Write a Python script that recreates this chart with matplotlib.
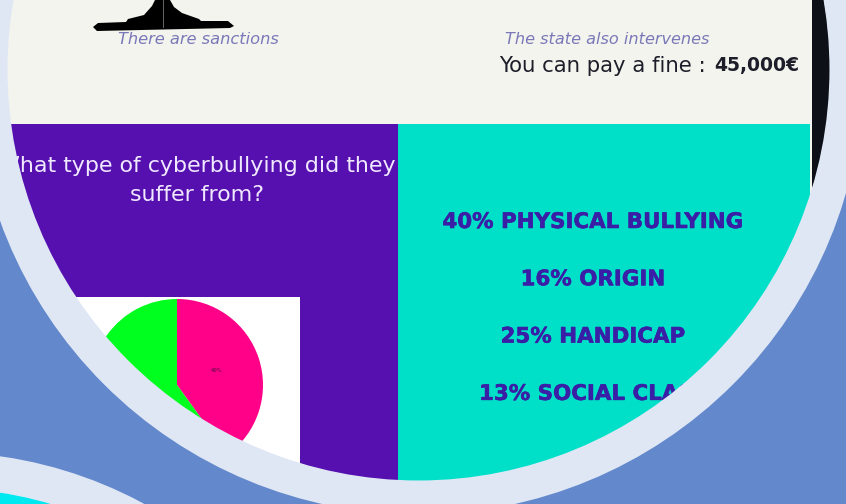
import matplotlib
matplotlib.use("Agg")
import matplotlib.pyplot as plt
import matplotlib.patheffects as pe
from matplotlib.patches import Circle, Rectangle, Polygon

pie_values = [40, 60]
pie_colors = ["#ff0088", "#00ff1e"]
list_pct = [40, 16, 25, 13]
list_names = ["PHYSICAL BULLYING", "ORIGIN", "HANDICAP", "SOCIAL CLASS"]

BLUE = "#6389cc"
BAND = "#dfe7f5"
CREAM = "#f3f4ee"
PURPLE = "#5610b0"
TEAL = "#00e0c8"
INK = "#3a1fa6"

plt.rcParams["font.family"] = ["DejaVu Sans"]

fig = plt.figure(figsize=(8.46, 5.04), dpi=100)
ax = fig.add_axes([0, 0, 1, 1])
fig.patch.set_facecolor(BLUE)

# corner wave, bottom left
ax.add_patch(Circle((-60, 880), 428, fc=BAND, ec="none"))
ax.add_patch(Circle((-60, 880), 392, fc="#00e8f0", ec="none"))

# big round frame
frame = Circle((418, 70), 412, fc=BAND, ec="none")
ax.add_patch(frame)


def clipped(artist):
    artist.set_clip_on(True)
    artist.set_clip_path(frame)
    return artist


clipped(ax.add_patch(Rectangle((812, 0), 34, 504, fc="#0d1117", ec="none")))
clipped(ax.add_patch(Rectangle((0, 0), 812, 504, fc=CREAM, ec="none")))
clipped(ax.add_patch(Rectangle((0, 124), 398, 380, fc=PURPLE, ec="none")))
clipped(ax.add_patch(Rectangle((398, 124), 412, 380, fc=TEAL, ec="none")))
clipped(ax.add_patch(Rectangle((60, 297), 240, 207, fc="white", ec="none")))

# pie, y axis is inverted so the angles run clockwise on screen
wedges, _ = ax.pie(pie_values, colors=pie_colors, center=(177, 385), radius=86,
                   startangle=-90, counterclock=True, frame=True)
for w in wedges:
    clipped(w)
ax.text(217, 371, "40%", fontsize=3.5, color="#8a0a5a", ha="center", va="center", fontweight="bold")

# silhouette at the top
clipped(ax.add_patch(Polygon(
    [(93, 27), (98, 23), (126, 22), (128, 19), (144, 15), (152, 6), (155, 0), (170, 0),
     (174, 7), (182, 13), (199, 19), (201, 21), (228, 21), (234, 26), (230, 28), (97, 31)],
    fc="black", ec="none")))
ax.plot([163, 163], [0, 27], color="#777777", lw=0.6)

ax.text(198, 40, "There are sanctions", fontsize=11.7, style="italic", color="#7a78b8",
        ha="center", va="center")
ax.text(607, 40, "The state also intervenes", fontsize=11.6, style="italic", color="#7a78b8",
        ha="center", va="center")
ax.text(713, 66, "You can pay a fine : ", fontsize=15.3, color="#1e1e2a", ha="right", va="center")
ax.text(714, 66, "45,000€", fontsize=13.5, fontweight="bold", color="#1e1e2a", ha="left", va="center")

for i, line in enumerate(["What type of cyberbullying did they", "suffer from?"]):
    ax.text(197, 166 + 29 * i, line, fontsize=15.9, color="#f0e8ff", ha="center", va="center",
            zorder=3)

heavy = [pe.withStroke(linewidth=0.4, foreground=INK)]
for i, (p, name) in enumerate(zip(list_pct, list_names)):
    if i < 3:
        ax.text(593, 222 + 57.3 * i, f"{p}% {name}", fontsize=15.4, fontweight="bold", color=INK,
                ha="center", va="center", zorder=3, path_effects=heavy)
    else:
        ax.text(479, 222 + 57.3 * i, f"{p}% {name}", fontsize=15.4, fontweight="bold", color=INK,
                ha="left", va="center", zorder=3, path_effects=heavy)

# ring goes over the text so it cuts it off at the frame like in the picture
ax.add_patch(Circle((418.5, 69.5), 428, fc="none", ec=BAND, lw=24.5, zorder=5))

ax.set_xlim(0, 846)
ax.set_ylim(504, 0)
ax.set_aspect("auto")
ax.axis("off")

fig.savefig("out.png", dpi=100, facecolor=BLUE)
